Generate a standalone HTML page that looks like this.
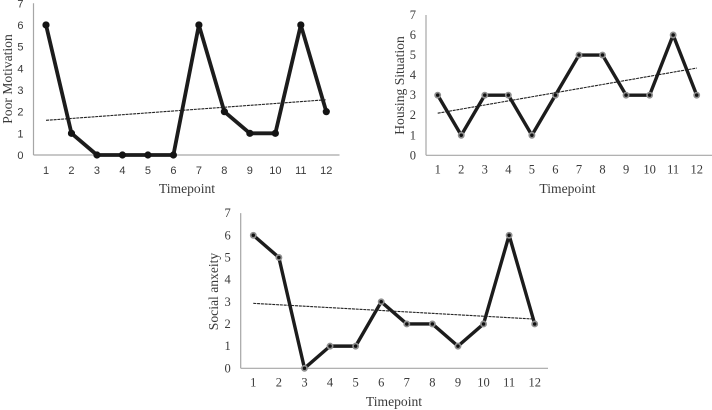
<!DOCTYPE html>
<html>
<head>
<meta charset="utf-8">
<style>
html,body{margin:0;padding:0;background:#fff;}
body{width:712px;height:410px;overflow:hidden;}
svg{display:block;}
text{fill:#3a3a3a;}
</style>
</head>
<body>
<svg id="figure" xmlns="http://www.w3.org/2000/svg" width="712" height="410" viewBox="0 0 712 410"></svg>
<script>
var categories = [1, 2, 3, 4, 5, 6, 7, 8, 9, 10, 11, 12];
var yTicks = [0, 1, 2, 3, 4, 5, 6, 7];
var motivationValues = [6, 1, 0, 0, 0, 0, 6, 2, 1, 1, 6, 2];
var housingValues = [3, 1, 3, 3, 1, 3, 5, 5, 3, 3, 6, 3];
var anxietyValues = [6, 5, 0, 1, 1, 3, 2, 2, 1, 2, 6, 2];
var motivationTrend = [1.6, 2.55];
var housingTrend = [2.1, 4.35];
var anxietyTrend = [2.93, 2.22];

var NS = 'http://www.w3.org/2000/svg';
var root = document.getElementById('figure');

function make(parent, tag, attrs, txt) {
  var el = document.createElementNS(NS, tag);
  for (var k in attrs) el.setAttribute(k, attrs[k]);
  if (txt !== undefined) el.textContent = txt;
  parent.appendChild(el);
  return el;
}

function drawChart(cfg, values, trend) {
  var x = function (c) { return cfg.x1 + (c - 1) * (cfg.x12 - cfg.x1) / 11; };
  var y = function (v) { return cfg.y0 - v * cfg.unit; };

  var g = make(root, 'g', {});
  
  

  var yAxis = make(g, 'line', {x1: cfg.axisX, x2: cfg.axisX, y1: y(7), y2: cfg.y0, stroke: '#a6a6a6', 'stroke-width': 1.2});
  
  

  var xAxis = make(g, 'line', {x1: cfg.axisX, x2: cfg.axisEnd, y1: cfg.y0, y2: cfg.y0, stroke: '#a6a6a6', 'stroke-width': 1.2});
  
  

  yTicks.forEach(function (t) {
    var lab = make(g, 'text', {x: cfg.axisX - 10, y: y(t) + 4, 'text-anchor': 'end', 'font-size': cfg.tickSize, 'font-family': cfg.tickFont}, String(t));
    
    
  });

  categories.forEach(function (c) {
    var lab = make(g, 'text', {x: x(c), y: cfg.y0 + cfg.tickDrop, 'text-anchor': 'middle', 'font-size': cfg.tickSize, 'font-family': cfg.tickFont}, String(c));
    
    
  });

  var pts = categories.map(function (c, i) { return x(c) + ',' + y(values[i]); }).join(' ');
  var line = make(g, 'polyline', {points: pts, fill: 'none', stroke: '#1c1c1c', 'stroke-width': cfg.lineW, 'stroke-linejoin': 'round'});
  
  

  categories.forEach(function (c, i) {
    var dot = make(g, 'circle', {cx: x(c), cy: y(values[i]), r: cfg.markerR, fill: cfg.markerFill, stroke: cfg.markerStroke, 'stroke-width': cfg.markerSW});
    
    
  });

  var tr = make(g, 'line', {x1: x(categories[0]), y1: y(trend[0]), x2: x(categories[categories.length - 1]), y2: y(trend[1]), stroke: '#222', 'stroke-width': 1.1, 'stroke-dasharray': '3 0.8'});
  
  

  var xt = make(g, 'text', {x: cfg.xTitleX, y: cfg.xTitleY, 'text-anchor': 'middle', 'font-size': 13.6, 'font-family': '"Liberation Serif", serif'}, 'Timepoint');
  
  

  var yt = make(g, 'text', {x: 0, y: 0, transform: 'translate(' + cfg.yTitleX + ' ' + cfg.yTitleY + ') rotate(-90)', 'text-anchor': 'middle', 'font-size': 13.6, 'font-family': '"Liberation Serif", serif'}, cfg.yTitle);
  
  
}

drawChart({
  name: 'poor-motivation', x1: 46, x12: 326.3, y0: 155, unit: 21.67, axisX: 33.5, axisEnd: 339.5,
  tickSize: 11, tickFont: '"Liberation Sans", sans-serif', tickDrop: 19, lineW: 3.8,
  markerR: 3.3, markerFill: '#141414', markerStroke: '#141414', markerSW: 0.6,
  xTitleX: 187, xTitleY: 193, yTitleX: 12, yTitleY: 79, yTitle: 'Poor Motivation'
}, motivationValues, motivationTrend);

drawChart({
  name: 'housing-situation', x1: 437.7, x12: 696.7, y0: 155.3, unit: 20.05, axisX: 426, axisEnd: 712,
  tickSize: 12.5, tickFont: '"Liberation Serif", serif', tickDrop: 18, lineW: 3.4,
  markerR: 2.6, markerFill: '#111', markerStroke: '#8f8f8f', markerSW: 1.7,
  xTitleX: 567.5, xTitleY: 193, yTitleX: 404, yTitleY: 85.5, yTitle: 'Housing Situation'
}, housingValues, housingTrend);

drawChart({
  name: 'social-anxiety', x1: 253.3, x12: 534.7, y0: 368.3, unit: 22.17, axisX: 240.7, axisEnd: 548,
  tickSize: 12.5, tickFont: '"Liberation Serif", serif', tickDrop: 18, lineW: 3.4,
  markerR: 2.6, markerFill: '#111', markerStroke: '#8f8f8f', markerSW: 1.7,
  xTitleX: 394, xTitleY: 406, yTitleX: 218, yTitleY: 291.5, yTitle: 'Social anxeity'
}, anxietyValues, anxietyTrend);
</script>
</body>
</html>
